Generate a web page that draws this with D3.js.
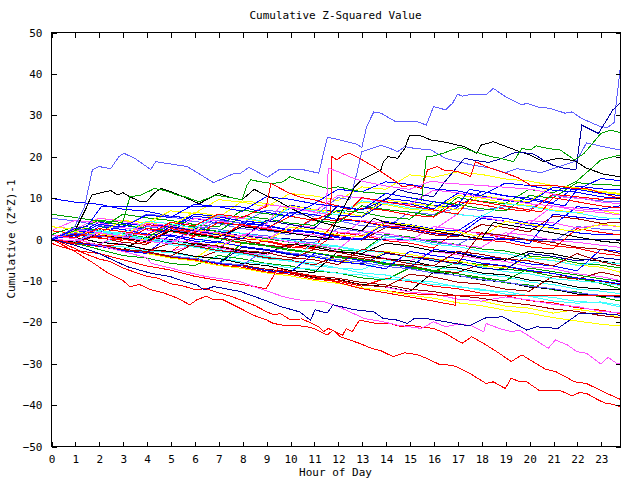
<!DOCTYPE html>
<html>
<head>
<meta charset="utf-8">
<script src="https://cdn.jsdelivr.net/npm/d3@7/dist/d3.min.js"></script>
<style>
  body { margin: 0; background: #fff; }
  text { font-family: "DejaVu Sans Mono", "Liberation Mono", monospace; font-size: 11px; fill: #000; }
</style>
</head>
<body>
<svg id="chart" width="640" height="480"></svg>
<script>
// hourly grid shared by the "bundle" series
const hours = [0,1,2,3,4,5,6,7,8,9,10,11,12,13,14,15,16,17,18,19,20,21,22,23,23.8];

const bundleColors = [
  'blue','red','green','magenta','cyan','yellow','darkred','navy','lightblue','black',
  'blue','red','green','magenta','cyan','yellow','darkred','lightblue','black','blue',
  'red','green','magenta','cyan','yellow','darkred','blue','red','green','cyan',
  'yellow','navy','magenta','black','blue','darkred','green','yellow','lightblue','blue',
  'red','green','cyan','yellow','magenta','blue','darkred',
  'yellow','blue','cyan','magenta','darkred'
];

const bundleValues = [
  [0,1.2,0.5,3.8,3.1,2.2,6,5.4,4.3,3.9,8.2,7.1,6.6,5.5,9.8,9.2,8.1,7.7,11.5,10.4,9.9,8.8,12.8,12.1,11.9],
  [0,-0.6,-1.9,-1.2,-2.6,-3.1,0.8,0.2,-1.1,-0.6,-1.9,-2.4,1.5,0.9,-0.4,-1,-2.2,2.1,1.4,0.2,-0.3,-1.6,-2.2,-3.5,-4],
  [0,-0.9,1.8,1.2,0.1,-0.4,-1.6,-2.2,0.9,0.1,-0.8,-1.5,-2.6,-3,1.2,0.5,-0.6,-1.3,-2.4,-2.9,-4.1,-4.6,-5.8,-6.3,-7],
  [1,0.4,-0.8,-1.2,-2.5,-3,-1.5,-2.1,-3.2,-3.9,-1.2,-1.8,-3,-3.5,-4.7,-5.3,-3,-3.8,-4.9,-5.4,-6.7,-7.2,-8.4,-9.1,-10],
  [0,-1,-1.4,-2.6,-3,-4.2,-4.7,-5.9,-3.5,-4.1,-5.3,-5.8,-7,-7.4,-5.1,-5.8,-6.9,-7.5,-8.6,-9.1,-10.4,-11,-12.1,-12.6,-13.2],
  [2,1.3,5,4.4,3.2,6.8,6.1,5.1,9.2,8.6,7.4,7,5.8,8.9,8.3,7.2,6.7,10.5,9.9,8.6,8.1,7,6.4,6.9,6],
  [0,-0.9,-1.5,-2.7,-3.2,-4.4,-5,-2.8,-3.4,-4.6,-5.1,-6.3,-4,-4.7,-5.8,-6.4,-7.6,-8.1,-6,-6.6,-7.8,-8.3,-9.6,-10.2,-11],
  [0,-0.8,1.5,0.9,-0.2,-0.7,2.5,1.8,0.7,0.3,0,0,0,0,0,0,0,0,0,0,0,0,0,0,0],
  [0,2.5,1.9,0.7,0.2,-1,3,2.4,1.3,0.8,-0.4,-0.9,2.5,1.8,0.8,0.3,-0.9,-1.4,1.5,0.9,-0.2,-0.7,3,2.4,2],
  [0,-0.9,-1.4,-2.6,0.5,-0.1,-1.3,-1.8,-3,-3.5,-1.2,-1.9,-3.1,-3.5,-1,-1.7,-2.9,-3.4,-4.6,-5.1,-3,-3.6,-4.8,-5.3,-6],
  [9.8,8.9,8.4,7.2,6.7,5.5,5,3.8,3.3,2.1,6.5,5.9,4.7,4.2,3,2.5,1.3,0.8,5,4.3,3.2,2.7,1.5,1,1],
  [0,-1.2,-1.7,-2.9,-3.4,-4.6,-5.1,-6.3,-6.8,-8,-8.5,-9.7,-10.2,-11.4,-9.5,-10.3,-11.4,-12,-13.1,-13.7,-14.9,-15.4,-16.6,-17.2,-18],
  [0,-1,-2.5,-4,-4.6,-5.9,-6.4,-4,-4.8,-5.9,-6.5,-7.7,-8.2,-9.4,-9.9,-7,-7.7,-8.9,-9.4,-10.6,-11.1,-12.3,-12.8,-14,-15],
  [3,2.4,5,4.3,3.2,2.7,1.5,1,0.8,-0.4,3.5,2.8,1.7,1.2,0,-0.5,3,2.3,1.2,0.7,4.5,3.9,2.7,3.4,3],
  [0,-0.8,-1.3,0.5,-0.2,-1.4,-1.9,-3.1,-3.6,-4.8,-5.3,-6.5,-7,-8.2,-8.7,-9.9,-10.4,-11.6,-12.1,-13.3,-13.8,-15,-15.5,-15.2,-16],
  [0,-0.9,-1.4,-2.6,-3.1,-4.3,-4.8,-6,-6.5,-7.7,-8.2,-9.4,-9.9,-11.1,-11.6,-12.8,-13.3,-14.5,-15,-16.2,-16.7,-17.9,-17,-17.8,-19],
  [0,1,0.4,-0.8,-1.3,2,1.4,0.2,-0.3,-1.5,-2,1.5,0.9,-0.3,2.8,2.1,1,0.5,3.5,2.8,1.7,5.5,4.9,3.8,4],
  [5,4.4,3.2,2.7,6,5.4,4.2,3.7,2.5,2,1,5,4.4,3.2,2.7,6.5,5.9,7.5,6.9,7.8,7.1,10.5,9.9,9.2,9],
  [0,-0.8,-1.3,-2.5,-3,-4.2,-4.7,-5.9,-6.4,-7.6,-8.1,-9.3,-9.8,-11,-11.5,-12.7,-8,-8.8,-9.9,-10.4,-11.6,-12.1,-13.3,-13.8,-14],
  [0,-0.9,3,2.3,1.2,0.7,-0.5,-1,4,3.3,2.2,1.7,0.5,0,4.2,3.5,2.4,1.9,5.6,5,3.8,3.3,7.8,7.2,8],
  [2,1.4,0.2,-0.3,3.5,2.9,1.8,1.3,0.1,-0.4,-1.6,-2.1,5,4.3,3.2,2.7,1.5,1,-0.2,-0.7,-1.9,-2.4,2.5,1.6,1],
  [0,-0.8,-1.3,-2.5,-3,-4.2,-4.7,-5.9,-1,-1.7,-2.8,-3.3,-4.5,-5,-6.2,-6.7,-7.9,-5.5,-6.2,-7.3,-7.8,-9,-9.5,-10.7,-12],
  [0,-0.9,-1.4,-2.6,-3.1,-4.3,-4.8,-6,-6.5,-7.7,-8.2,-9.4,-9.9,-11.1,-11.6,-12.8,-13.3,-14.5,-15,-14,-14.7,-15.8,-16.3,-17.5,-17.8],
  [0,-0.7,-1.6,-1.9,-2.9,-3.3,-4.3,-4.6,-5.6,-6,-7,-7.3,-8.3,-8.7,-9.7,-10,-11,-11.4,-12.4,-12.7,-13.7,-14.1,-15.1,-15.4,-16.4],
  [0,-0.8,-1.3,-2.5,-3,-4.2,-4.7,-1,-1.7,-2.8,-3.3,-4.5,-5,-6.2,-3,-3.7,-4.8,-5.3,-6.5,-7,-4.5,-5.2,-6.3,-6.8,-8],
  [0,-0.9,-1.4,-2.6,-3.1,-4.3,-4.8,-6,-6.5,-7.7,-8.2,-9.4,-9.9,-11.1,-11.6,-8.5,-9.2,-10.4,-10.9,-12.1,-12.6,-9,-9.7,-8,-9],
  [0,0.8,4,3.4,2.2,1.7,5.5,4.9,3.7,3.2,2,1.5,0.3,-0.2,4,3.3,2.2,1.7,0.5,0,-1.2,6,5.3,4.7,5],
  [0,-0.9,-1.7,-2.8,-3.5,-4.6,-5.3,-6.4,-7.1,-8.2,-8.9,-10,-10.7,-11.8,-12.5,-13.2,-13.5,-13.7,-13.7,-13.7,-13.7,-13.7,-13.7,-13.7,-13.7],
  [1,3,2.1,6,5.1,4.5,3.5,2.9,7,6.1,5.5,4.5,3.9,8,7.1,6.5,5.5,10,9.1,8.5,12,11.1,14,19.1,20.3],
  [0,-0.8,1.5,0.9,-0.3,-0.8,-2,-2.5,-3.7,-4.2,-5.4,-1,-1.7,-2.8,-3.3,-4.5,-5,-6.2,-6.7,-7.9,-8.4,-9.6,-10.1,-10.6,-11.2],
  [0,-0.9,-1.7,-2.8,-3.5,-4.6,-5.3,-6.4,-7.1,-8.2,-8.9,-10,-10.7,-11.8,-12.5,-13.6,-14.3,-15.4,-16.1,-17.2,-17.9,-19,-19.8,-20.6,-21],
  [0,-0.8,-1.3,-2.5,-3,-4.2,-4.7,-5.9,-2,-2.7,-3.8,-4.3,-5.5,-6,-3.5,-4.2,-5.3,-5.8,-7,-7.5,-3.5,-4.2,-5.3,-4.5,-5],
  [2,4.5,3.9,2.7,2.2,1,5,4.4,3.2,2.7,1.5,1,-0.2,4.5,3.8,2.7,2.2,6,5.3,4.2,3.7,8,7.4,6.8,7],
  [1,0.4,-0.8,-1.3,-2.5,-3,-4.2,-4.7,-5.9,-6.4,-7.6,-8.1,-3,-3.7,-4.8,-5.3,-6.5,-7,-8.2,-8.7,-9.9,-10.4,-11.6,-12.1,-12.3],
  [0,-0.8,-1.3,-2.5,-3,-4.2,-4.7,-5.9,-6.4,-7.6,-8.1,-3.5,-4.2,-5.3,-5.8,-7,-2.5,-3.2,-4.3,-4.8,-6,-6.5,-7.7,-2.5,-3],
  [0,-0.8,-1.5,-2.5,-3.1,-4.1,-4.7,-5.7,-6.3,-7.3,-7.9,-8.9,-9.5,-10.5,-11.1,-12.1,-12.7,-13.7,-14.3,-15.3,-15.9,-16.9,-17.5,-18.5,-19],
  [6,5.2,4.3,3.5,2.6,1.8,0.9,0.1,-0.8,-1.6,-2.5,-3.3,-4.2,-5,-5.9,-6.7,-7.6,-8.4,-9.3,-10.1,-7,-7.9,-8.7,-9.6,-10.2],
  [3,2.3,1.3,0.7,4,3.1,6.5,5.6,5,4,8,7.1,6.5,5.5,9.5,8.6,8,7,10.5,9.6,9,13,12.1,11.5,11],
  [0,-0.8,-1.5,-2.5,-3.1,-4.1,-4.7,-5.7,-6.3,-2.5,-3.4,-4,-5,-5.6,-6.6,-7.2,-8.2,-8.8,-9.8,-10.4,-11.4,-12,-13,-13.6,-14.2],
  [0,-0.9,-1.7,-2.8,-3.5,1,0,-0.7,-1.8,-2.5,-3.6,-4.3,-5.4,-6.1,-7.2,-3,-4,-4.7,-5.8,-6.5,-7.6,-8.3,-9.4,-10.1,-10.8],
  [0,1.5,0.9,-0.3,2.5,1.9,0.7,4,3.4,2.3,1.8,5,4.4,7.5,6.9,5.8,5.3,9,8.3,7.2,6.7,10.8,10.2,9.6,10],
  [0,-0.6,2,1.4,0.3,3.5,2.9,1.8,5.5,4.9,3.8,3.3,7,6.4,5.3,4.8,9,8.4,7.3,6.8,10.5,9.9,13.6,13.1,13],
  [0,-0.7,1.8,1.2,0.1,-0.4,-1.6,2,1.4,0.3,-0.2,-1.4,-1.9,-3.1,0.5,-0.2,-1.3,-1.8,-3,-3.5,-4.7,-5.2,-6.4,-5.5,-6],
  [0,2,1.4,0.2,-0.3,3,2.4,1.2,0.7,-0.5,2.8,2.2,1,0.5,4,3.4,2.2,1.7,0.5,4.2,3.6,2.4,1.9,3.6,3],
  [0,-0.8,-1.3,1.5,0.9,-0.3,-0.8,-2,1,0.4,-0.8,-1.3,-2.5,2,1.4,0.2,-0.3,-1.5,-2,1.5,0.9,-0.3,-0.8,-1.5,-2],
  [0,2,1.4,4.5,3.9,2.8,6,5.4,4.3,3.8,7.5,6.9,5.8,5.3,9,8.4,7.3,11,10.4,9.3,8.8,12.5,11.9,14.6,14.1],
  [0,-0.8,-1.3,-2.5,-3,-1,-1.7,-2.8,-3.3,-4.5,-5,-2.5,-3.2,-4.3,-4.8,-6,-6.5,-3,-3.7,-4.8,-5.3,-6.5,-3.5,-5.5,-6.5],
  [0,1.8,1.2,4.5,3.9,6.8,6.2,9.5,8.9,7.8,11,10.4,9.3,12.6,12,15.5,14.9,16.2,15.6,14.5,14,12.9,12.4,11.3,10.8],
  [1,0.4,3.5,2.9,5.8,5.2,8.4,7.8,6.7,10.2,9.6,8.5,12,11.4,13.8,13.2,12.1,11.6,10.5,13.5,12.9,11.8,11.3,10.2,9.8],
  [0,-0.7,2,1.4,4.3,3.7,2.6,5.8,5.2,4.1,7.5,6.9,5.8,9.2,8.6,7.5,7,5.9,5.4,8.5,7.9,6.8,6.3,5.2,4.8],
  [0,2.2,1.6,0.5,3.8,3.2,2.1,5.5,4.9,8.3,7.7,6.6,10.5,9.9,8.8,8.3,11.8,11.2,10.1,9.6,8.5,8,6.9,6.4,5.8],
  [0,-0.8,-1.3,-2.5,-3,-4.2,-1,-1.7,-2.8,-3.3,-4.5,-5,-6.2,-2.5,-3.2,-4.3,-4.8,-6,1.5,0.8,-0.3,-0.8,-2,-2.5,-3.5]
];

// series traced at finer resolution: [hour, value] pairs
const tracedColors = ['lightblue','lightblue','black','black','navy','green','red','red','magenta','red','blue','red','red','magenta','navy'];

const tracedPoints = [
  [[0,0],[0.5,1],[1,3],[1.4,7.7],[1.73,16.7],[2,17.5],[2.5,17],[2.84,19.9],[3.05,20.7],[3.5,19.5],[4.17,16.8],[4.38,18.7],[4.8,18.3],[5.7,17.5],[6.8,13.6],[7.6,15.7],[7.93,15.9],[8.28,17.3],[9.05,14.9],[9.53,16.7],[10.5,16.8],[11.2,15.9],[11.56,24.6],[11.97,24.1],[12.8,22.9],[13,22.1],[13.2,27.1],[13.5,30.7],[13.8,30.4],[14.4,28.4],[15.3,28.4],[15.7,27.5],[16,32],[16.5,31.2],[16.8,32.8],[17,35],[17.2,34.5],[17.6,35],[18.2,34.8],[18.5,36.4],[19,34.4],[19.7,32.4],[19.9,32.8],[20.4,31.8],[20.85,31.6],[21.5,30.4],[21.8,30.7],[22.2,29.1],[23,27.1],[23.3,27],[23.55,28.1],[23.8,40.8]],
  [[0,0],[1,1.5],[2,0.8],[3,0],[4,3],[5,2.2],[6,1.5],[7,4.5],[8,3.8],[9,7],[10,6.2],[11,5.5],[12,10],[12.5,9.5],[12.8,16],[13,21.1],[13.8,22.6],[14.1,22.1],[14.5,21.1],[14.8,22.3],[15.2,21.9],[15.9,21.5],[16.5,19.5],[17.5,18],[18.5,17],[19,16],[19.5,17],[20.5,16],[21,17],[21.8,18.5],[22,19.1],[22.4,23.2],[23.1,22.3],[23.8,21.5]],
  [[0,0],[1,-0.8],[2,1],[3,0.2],[4,-0.6],[5,2],[6,1.2],[7,0.4],[8,3],[9,2.2],[10,1.4],[11,0.6],[11.6,0],[11.9,3.8],[12.7,12.6],[13,14.3],[13.4,15.5],[13.8,16.7],[13.9,18.7],[14.1,19.9],[14.5,19.5],[14.8,21.9],[15,25.1],[15.4,25.1],[15.9,23.9],[16.4,23.5],[17.3,22.3],[17.8,20.7],[18,22.7],[18.5,23.5],[19.1,22.2],[19.6,21.1],[20,20.4],[20.6,18.7],[21.2,19.5],[21.9,18.9],[22.4,17.1],[23.1,15.7],[23.8,15]],
  [[0,0],[1,2],[1.5,7.8],[1.7,10.6],[2.1,11.2],[2.5,11.7],[2.8,10.6],[3,11.2],[3.3,10.2],[3.75,9],[4,9],[4.3,11],[4.6,12.2],[5,11.5],[5.7,9.8],[6.2,8.5],[6.6,9.8],[7,11],[7.5,10],[8,9.5],[8.5,12],[9,10.5],[9.4,9.5],[10,7.5],[11.2,4.2],[12,3],[13,2],[13.5,5],[14,4],[15,3],[16,2],[17,1],[18,0],[18.5,4],[19,3.5],[20,2.5],[21,1.5],[22,0.5],[23,-0.5],[23.8,-1]],
  [[0,0],[1,-1],[2,1.5],[3,0.5],[4,-0.5],[5,3],[6,2],[7,1],[8,0],[9,4.5],[10,3.5],[11,2.5],[12,8],[13,7],[14,9.5],[14.5,12],[15,11.2],[16,10.2],[16.5,14],[17,17.5],[17.3,19.5],[17.7,19],[18.3,18.5],[18.9,19.5],[19.3,20.7],[19.6,21],[20.2,20.5],[20.6,19],[21,17.8],[21.5,17],[21.96,16.8],[22.2,27.5],[22.9,25.5],[23.5,31.2],[23.8,32.8]],
  [[0,0],[1,2],[2,4.5],[3,4],[3.3,10.2],[3.75,10.6],[4.2,11.8],[4.3,12.2],[4.7,11.8],[5.3,10.6],[5.6,10.2],[6.2,9],[6.9,10.6],[7.5,10],[8,9.5],[8.2,13],[8.35,14.3],[8.77,13.8],[9.3,13.4],[9.7,13.8],[10,15.1],[10.3,14.4],[10.7,13.8],[11.3,12.6],[11.6,12.2],[12,12.6],[12.5,12],[13.2,11.2],[14,11],[14.8,10.2],[15.5,9.4],[15.7,19.9],[15.9,19.9],[16.4,20.7],[17.1,22.2],[17.7,21.1],[18.4,19.9],[18.8,19.5],[19.35,18.7],[19.7,21.9],[20.05,21.5],[20.3,22.5],[20.75,21.9],[21.3,21.5],[21.7,19.9],[21.9,19.1],[22.3,20.7],[23,25.5],[23.4,26.3],[23.7,25.9],[23.8,25.6]],
  [[0,0],[1,-1],[2,1],[3,0],[4,-1],[5,2.5],[6,1.5],[7,0.5],[8,3.5],[9,2.5],[10,5.5],[11,4.5],[11.7,6.3],[11.75,19.9],[11.95,19.1],[12.25,20.3],[12.5,20.7],[12.9,19.5],[13.5,17.5],[14,15.5],[14.45,13.8],[14.7,12.6],[15.1,13],[15.5,12.2],[15.75,16.7],[16.15,17.5],[16.4,16.7],[17,16.3],[17.55,15.1],[17.75,18.7],[18.2,17.5],[19.2,15.5],[19.5,14.9],[20.05,13],[21,13],[21.9,12.2],[22.4,12.2],[23.1,11],[23.8,9.8]],
  [[0,1],[1,0.3],[2,2.5],[3,1.8],[4,1],[5,4],[6,3.2],[7,6],[8,5.2],[9,7.8],[9.2,13.4],[10,11],[10.5,10],[11,9.5],[11.5,8.6],[12,8],[12.5,7],[13,10],[14,9],[15,8],[16,7],[17,6],[17.5,9.5],[18.5,8.5],[19.5,7.5],[20.5,6.5],[21,10],[22,9],[23,8],[23.8,7.5]],
  [[0,0],[1,-0.5],[2,1.5],[3,0.5],[4,-0.5],[5,-1.2],[6,2],[7,1.5],[8,0.7],[9,3.5],[9.6,8],[10,7.5],[11,6.5],[11.5,6],[11.6,17.1],[12,16.3],[12.5,15],[13,14],[14,12.8],[15,12],[15.9,14],[16.5,13.5],[17.3,13.2],[18.3,12.8],[19,12.5],[20.1,12],[20.8,11.2],[21.5,10],[22.3,9.8],[22.9,9],[23.8,8.5]],
  [[0,-1],[0.5,-2],[1,-2.8],[2,-3.5],[3,-5],[4,-6.5],[5,-7.5],[6,-9],[7,-10],[8,-11],[9,-12],[9.5,-7],[10,-8],[11,-9],[12,-10.5],[13,-12],[14,-13],[15,-14],[16,-15],[16.9,-16],[16.9,-13.7],[23.8,-13.7]],
  [[0,0],[0.5,1],[1,2.5],[1.5,3],[2.1,7.8],[7.9,7.8],[8.5,7],[9,6.5],[10,5.5],[11,8.5],[12,7.8],[13,7],[14,11],[15,10],[16,9],[17,8],[17.5,12],[18.5,11],[19.5,10],[20.5,9],[21.5,8],[22,12],[23,11],[23.8,10.5]],
  [[0,0],[0.5,-1],[1,-2.3],[1.4,-3.5],[2,-4.8],[2.5,-5.5],[3,-7],[3.5,-8],[4,-9],[4.5,-9.5],[5,-10.8],[5.5,-11.3],[6,-12.2],[6.5,-12],[7,-13],[7.5,-13.8],[7.93,-14.7],[8.5,-16],[9,-17.5],[9.3,-18.3],[9.6,-18],[10,-19.5],[10.5,-19.3],[11.2,-21.2],[11.4,-22.4],[11.6,-21.6],[12.2,-23.2],[12.35,-21.6],[12.6,-22.4],[12.9,-19.6],[13.5,-20.3],[14.2,-20.4],[14.65,-21.2],[15,-20.8],[15.4,-21.2],[16,-21.6],[16.5,-22.8],[17.2,-25.2],[17.6,-23.6],[18.2,-25.6],[18.75,-27.6],[19.25,-29.6],[19.7,-28],[20.15,-29.6],[20.7,-31.5],[21.1,-32],[21.5,-33.2],[21.9,-34.5],[22.4,-34.9],[23.1,-36.9],[23.8,-38.7]],
  [[0,0],[0.5,-1.5],[1,-3],[1.4,-4.5],[1.8,-5.9],[2.4,-8.3],[3,-10],[3.3,-11.5],[3.7,-11],[4.2,-12.3],[4.7,-13],[5.3,-14.3],[5.8,-15.9],[6.1,-14.7],[6.5,-13.8],[6.8,-14.7],[7.2,-14.7],[7.9,-16.7],[8.5,-18.5],[9,-19.5],[9.3,-20.4],[9.7,-20.8],[10.2,-20.8],[10.7,-21.2],[11,-21.6],[11.55,-23.2],[11.8,-22],[12.1,-23.6],[12.9,-25.2],[13.4,-26.4],[13.8,-27],[14.3,-28.4],[14.8,-27.5],[15.3,-27.9],[15.7,-28.8],[16.25,-30.3],[16.5,-30.3],[16.95,-30.8],[17.5,-32.4],[18.2,-34.9],[18.5,-34.5],[19,-36.1],[19.25,-33.6],[19.6,-34.5],[19.9,-34.5],[20.4,-36.5],[20.7,-36.6],[21.3,-36.6],[21.8,-37.9],[22.1,-37.1],[22.4,-37.3],[22.9,-38.9],[23.2,-39.7],[23.5,-39.9],[23.8,-40.5]],
  [[0,1],[1,0],[2,-1.5],[3,-3],[4,-4.5],[4.2,-5.9],[5,-7],[5.6,-7.9],[6.5,-9.1],[7.5,-9.9],[7.9,-10.3],[8.5,-11.5],[9,-12.5],[9.7,-13.9],[10.3,-14.7],[11.4,-15.1],[12,-16.3],[12.5,-17.6],[13.1,-19.2],[13.9,-20],[14.5,-20.8],[15.5,-21.6],[16,-20],[16.5,-21.2],[17.1,-20.5],[17.6,-21],[18.1,-22.4],[18.2,-20.4],[18.75,-21.6],[19.25,-22.4],[19.6,-22],[20.15,-24],[20.8,-26.4],[21.1,-24.4],[21.6,-25.6],[22,-27.2],[22.4,-27.6],[23,-30.2],[23.3,-28.6],[23.65,-30],[23.8,-30]],
  [[0,0],[1,-1.5],[2,-3.5],[3.2,-6.7],[4.2,-8.3],[5,-9.1],[5.6,-10.3],[6.1,-11.1],[6.4,-12.3],[6.8,-11.5],[7.2,-11.9],[7.93,-12.7],[8.9,-14.7],[9.6,-16.3],[10.4,-17.6],[10.85,-19.6],[11.05,-17.1],[11.55,-17.9],[11.8,-15.9],[12.1,-16.3],[12.7,-17.1],[13.5,-17.6],[13.9,-19.2],[14.5,-19.6],[14.9,-20.4],[15.2,-19.2],[15.7,-19.2],[16.5,-20],[17.5,-21],[18.2,-19],[18.9,-18.8],[19.9,-22],[20.3,-21.2],[21.2,-21.6],[21.7,-19.6],[22.1,-17.9],[22.8,-17.9],[23.8,-18.4]]
];

const palette = {
  blue: '#0000ff', red: '#ff0000', green: '#00a000', magenta: '#ff50ff', cyan: '#40ffff',
  yellow: '#ffff00', darkred: '#a00000', navy: '#0000a0', lightblue: '#6060ff', black: '#000000'
};

const xTicks = d3.range(0, 24);
const yTicks = d3.range(-50, 51, 10);

const margin = { top: 32, right: 20, bottom: 34, left: 51 };
const width = 640, height = 480;
const plotW = width - margin.left - margin.right;
const plotH = height - margin.top - margin.bottom;

const svg = d3.select('#chart');

const x = d3.scaleLinear().domain([0, 23.8]).range([0, plotW]);
const y = d3.scaleLinear().domain([-50, 50]).range([plotH, 0]);

svg.append('defs').append('clipPath').attr('id', 'plotClip')
  .append('rect').attr('width', plotW + 1).attr('height', plotH + 1);

const g = svg.append('g').attr('transform', `translate(${margin.left},${margin.top})`);

const line = d3.line().x(d => x(d[0])).y(d => y(d[1]));

const series = [];
bundleValues.forEach((vals, i) => {
  series.push({ color: palette[bundleColors[i]], pts: vals.map((v, j) => [hours[j], v]) });
});
tracedPoints.forEach((pts, i) => {
  series.push({ color: palette[tracedColors[i]], pts: pts });
});

g.append('g').attr('clip-path', 'url(#plotClip)')
  .selectAll('path')
  .data(series)
  .enter().append('path')
    .attr('d', d => line(d.pts))
    .attr('fill', 'none')
    .attr('stroke', d => d.color)
    .attr('stroke-width', 1)
    .attr('shape-rendering', 'crispEdges');

// frame
g.append('rect')
  .attr('x', 0.5).attr('y', 0.5)
  .attr('width', plotW).attr('height', plotH)
  .attr('fill', 'none').attr('stroke', '#000').attr('shape-rendering', 'crispEdges');

// inward ticks on all four sides
const tickLen = 5;
g.append('g').attr('transform', `translate(0.5,${plotH + 0.5})`)
  .call(d3.axisBottom(x).tickValues(xTicks).tickSizeInner(-tickLen).tickSizeOuter(0).tickPadding(9))
  .call(a => a.select('.domain').remove());
g.append('g').attr('transform', 'translate(0.5,0.5)')
  .call(d3.axisTop(x).tickValues(xTicks).tickSizeInner(-tickLen).tickSizeOuter(0).tickFormat(''))
  .call(a => a.select('.domain').remove());
g.append('g').attr('transform', 'translate(0.5,0.5)')
  .call(d3.axisLeft(y).tickValues(yTicks).tickSizeInner(-tickLen).tickSizeOuter(0).tickPadding(9))
  .call(a => a.select('.domain').remove());
g.append('g').attr('transform', `translate(${plotW + 0.5},0.5)`)
  .call(d3.axisRight(y).tickValues(yTicks).tickSizeInner(-tickLen).tickSizeOuter(0).tickFormat(''))
  .call(a => a.select('.domain').remove());

g.selectAll('.tick line').attr('stroke', '#000').attr('shape-rendering', 'crispEdges');
g.selectAll('.tick text').attr('fill', '#000')
  .style('font-family', '"DejaVu Sans Mono", monospace').style('font-size', '11px');

// titles
svg.append('text').attr('x', margin.left + plotW / 2).attr('y', 19)
  .attr('text-anchor', 'middle').text('Cumulative Z-Squared Value');
svg.append('text').attr('x', margin.left + plotW / 2).attr('y', 476)
  .attr('text-anchor', 'middle').text('Hour of Day');
svg.append('text').attr('transform', `translate(15,${margin.top + plotH / 2}) rotate(-90)`)
  .attr('text-anchor', 'middle').text('Cumulative (Z*Z)-1');
</script>
</body>
</html>
